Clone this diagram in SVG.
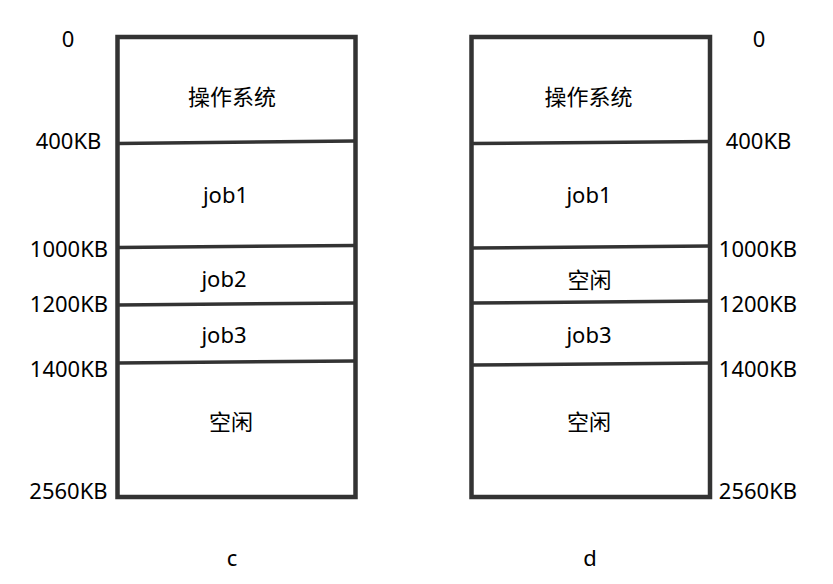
<svg xmlns="http://www.w3.org/2000/svg" width="833" height="584" viewBox="0 0 833 584">
<style>
text{font-family:"Noto Sans","Noto Sans CJK SC",sans-serif;font-size:22px;fill:#000;text-anchor:middle}
.box{fill:#fff;stroke:#333;stroke-width:4.5}
.div{stroke:#333;stroke-width:3.5;fill:none}
</style>
<rect width="833" height="584" fill="#fff"/>
<g id="memory-c">
<rect class="box" x="117.5" y="37" width="238" height="460"/>
<g id="c-dividers">
<line class="div" x1="117.5" y1="143.5" x2="355.5" y2="141"/>
<line class="div" x1="117.5" y1="247.5" x2="355.5" y2="245.5"/>
<line class="div" x1="117.5" y1="305" x2="355.5" y2="303"/>
<line class="div" x1="117.5" y1="363" x2="355.5" y2="361"/>
</g>
<text x="232" y="105">操作系统</text>
<text x="225.5" y="203">job1</text>
<text x="224" y="287">job2</text>
<text x="224" y="343">job3</text>
<text x="231" y="430">空闲</text>
<g id="c-addresses">
<text x="68" y="47">0</text>
<text x="68.5" y="149">400KB</text>
<text x="69" y="257">1000KB</text>
<text x="69" y="312">1200KB</text>
<text x="69" y="377">1400KB</text>
<text x="68.5" y="499">2560KB</text>
</g>
<text x="232" y="566">c</text>
</g>
<g id="memory-d">
<rect class="box" x="471.5" y="37" width="238.5" height="460"/>
<g id="d-dividers">
<line class="div" x1="471.5" y1="143.5" x2="710" y2="141.5"/>
<line class="div" x1="471.5" y1="248" x2="710" y2="246"/>
<line class="div" x1="471.5" y1="303" x2="710" y2="301"/>
<line class="div" x1="471.5" y1="365" x2="710" y2="363"/>
</g>
<text x="588.5" y="105">操作系统</text>
<text x="589" y="203">job1</text>
<text x="589.5" y="288">空闲</text>
<text x="589" y="343">job3</text>
<text x="589" y="430">空闲</text>
<g id="d-addresses">
<text x="759" y="47">0</text>
<text x="758.5" y="149">400KB</text>
<text x="758" y="257">1000KB</text>
<text x="758" y="312">1200KB</text>
<text x="758" y="377">1400KB</text>
<text x="758" y="499">2560KB</text>
</g>
<text x="590" y="566">d</text>
</g>
</svg>
